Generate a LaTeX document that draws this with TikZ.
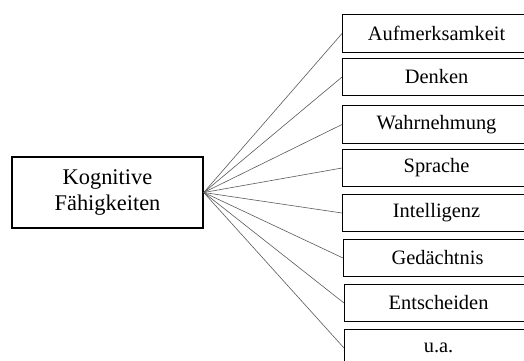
\documentclass[tikz,border=0pt]{standalone}
\usepackage{fontspec}
\setmainfont{Liberation Serif}
\tikzset{
  mainbox/.style={draw=black, line width=1.5pt, minimum width=191bp, minimum height=71bp, inner sep=0pt, align=center, font=\fontsize{22.5}{27}\selectfont},
  skillbox/.style={draw=black, line width=1.1pt, minimum width=188bp, minimum height=37.5bp, inner sep=0pt, anchor=west, font=\fontsize{20.5}{24}\selectfont},
  spoke/.style={line width=0.6pt, draw=black!65},
}
\begin{document}
\begin{tikzpicture}[x=1bp, y=-1bp]
\useasboundingbox (0,0) rectangle (524,360);
\clip (0,0) rectangle (524,360);
\node[mainbox] (kog) at (107.5,192.5) {Kognitive\\Fähigkeiten};
\node[skillbox] (auf) at (342,33.5) {Aufmerksamkeit};
\node[skillbox] (den) at (342,77) {Denken};
\node[skillbox] (wah) at (342,124.5) {Wahrnehmung};
\node[skillbox] (spr) at (342,168) {Sprache};
\node[skillbox] (int) at (342,213) {Intelligenz};
\node[skillbox] (ged) at (343,258) {Gedächtnis};
\node[skillbox] (ent) at (344,303) {Entscheiden};
\node[skillbox] (ua) at (344,348) {u.a.};
\draw[spoke] (kog.east) -- (auf.west);
\draw[spoke] (kog.east) -- (den.west);
\draw[spoke] (kog.east) -- (wah.west);
\draw[spoke] (kog.east) -- (spr.west);
\draw[spoke] (kog.east) -- (int.west);
\draw[spoke] (kog.east) -- (ged.west);
\draw[spoke] (kog.east) -- (ent.west);
\draw[spoke] (kog.east) -- (ua.west);
\end{tikzpicture}
\end{document}
